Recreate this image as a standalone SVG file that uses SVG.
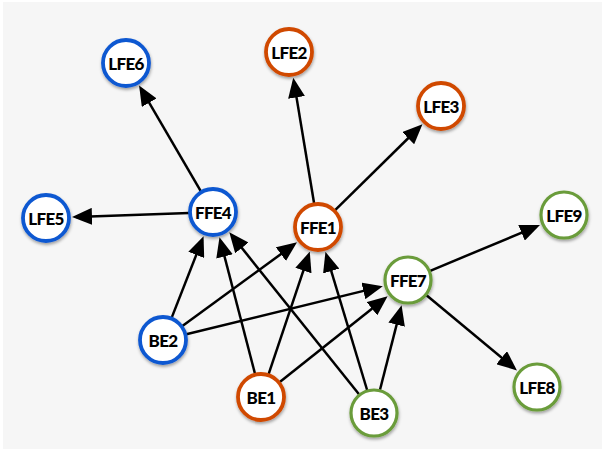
<svg xmlns="http://www.w3.org/2000/svg" width="604" height="451" viewBox="0 0 604 451">
<style>
.n circle{fill:#ffffff;stroke-width:3.8;filter:url(#sh)}
.b circle{stroke:#1158d1}
.o circle{stroke:#d04a06}
.g circle{stroke:#6a9c3a;stroke-width:3.2}
.n text{font-family:Lato,"Liberation Sans",sans-serif;font-weight:900;font-size:17px;fill:#000;text-anchor:middle;dominant-baseline:central;letter-spacing:-0.7px}
#edges line{stroke:#000;stroke-width:2.5;marker-end:url(#ah)}
</style>
<defs>
<marker id="ah" markerUnits="userSpaceOnUse" markerWidth="20" markerHeight="17" refX="16" refY="8.5" orient="auto">
<path d="M0,0 L20,8.5 L0,17 z" fill="#000"/>
</marker>
<filter id="sh" x="-30%" y="-30%" width="160%" height="170%">
<feDropShadow dx="0.5" dy="2" stdDeviation="1.4" flood-color="#000" flood-opacity="0.35"/>
</filter>
</defs>
<rect x="3" y="2" width="599" height="447" fill="#f6f6f6"/>
<g id="edges">
<line x1="200.9" y1="191.3" x2="141.1" y2="88.9"/>
<line x1="189" y1="212.9" x2="76" y2="216.9"/>
<line x1="314.1" y1="203.3" x2="293.9" y2="81.6"/>
<line x1="335.1" y1="210.2" x2="419.6" y2="127"/>
<line x1="430.2" y1="270.8" x2="536.3" y2="226.6"/>
<line x1="426.5" y1="295.3" x2="513.9" y2="367.9"/>
<line x1="171.7" y1="317.6" x2="202.1" y2="240"/>
<line x1="182.4" y1="325.9" x2="293.8" y2="244.7"/>
<line x1="186.3" y1="334.3" x2="378.9" y2="287.1"/>
<line x1="255" y1="373.8" x2="220.5" y2="241"/>
<line x1="268.6" y1="374.2" x2="308.5" y2="255.4"/>
<line x1="279.8" y1="382.1" x2="384.5" y2="298.7"/>
<line x1="359" y1="394.3" x2="231.8" y2="235.4"/>
<line x1="367.1" y1="390" x2="326.6" y2="255.7"/>
<line x1="380" y1="389.8" x2="400.6" y2="309.1"/>
</g>
<g id="LFE6" class="n b"><circle cx="126" cy="63" r="23"/><text x="126" y="63">LFE6</text></g>
<g id="LFE5" class="n b"><circle cx="46" cy="218" r="23"/><text x="46" y="218">LFE5</text></g>
<g id="FFE4" class="n b"><circle cx="213" cy="212" r="23"/><text x="213" y="212">FFE4</text></g>
<g id="BE2" class="n b"><circle cx="163" cy="340" r="23"/><text x="163" y="340">BE2</text></g>
<g id="LFE2" class="n o"><circle cx="289" cy="52" r="23"/><text x="289" y="52">LFE2</text></g>
<g id="LFE3" class="n o"><circle cx="441" cy="106" r="23"/><text x="441" y="106">LFE3</text></g>
<g id="FFE1" class="n o"><circle cx="318" cy="227" r="23"/><text x="318" y="227">FFE1</text></g>
<g id="BE1" class="n o"><circle cx="261" cy="397" r="23"/><text x="261" y="397">BE1</text></g>
<g id="FFE7" class="n g"><circle cx="408" cy="280" r="23"/><text x="408" y="280">FFE7</text></g>
<g id="LFE9" class="n g"><circle cx="564" cy="215" r="23"/><text x="564" y="215">LFE9</text></g>
<g id="LFE8" class="n g"><circle cx="537" cy="387" r="23"/><text x="537" y="387">LFE8</text></g>
<g id="BE3" class="n g"><circle cx="374" cy="413" r="23"/><text x="374" y="413">BE3</text></g>
</svg>
